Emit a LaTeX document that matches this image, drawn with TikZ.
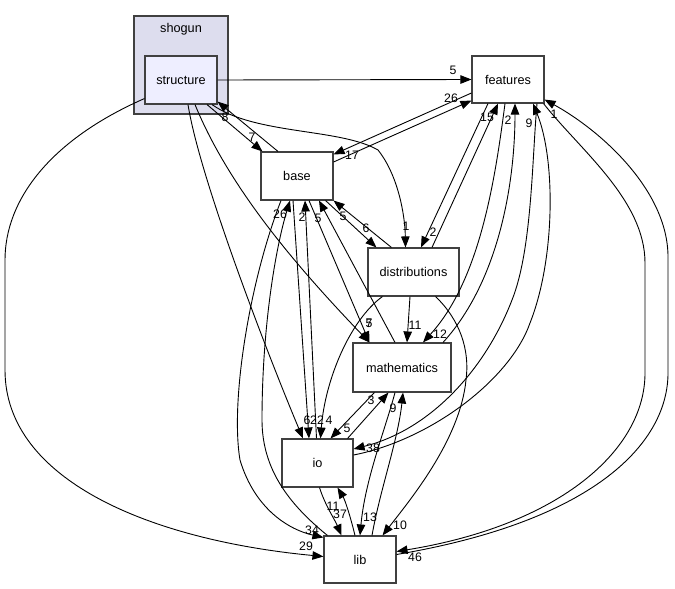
\documentclass[tikz,border=0pt]{standalone}
\usepackage{fontspec}
\setmainfont{Liberation Sans}
\usetikzlibrary{calc,arrows.meta}
\definecolor{boxline}{HTML}{404040}
\definecolor{clusterfill}{HTML}{DDDDEE}
\definecolor{structfill}{HTML}{EEEEFF}
\begin{document}
\begin{tikzpicture}[x=1pt,y=-1pt,
  box/.style={draw=boxline,line width=1.1pt,fill=white,minimum width=72pt,minimum height=48pt,inner sep=0pt,font=\fontsize{12.7}{14}\selectfont},
  dep/.style={line width=0.9pt,-{Triangle[length=11pt,width=8.5pt]}},
  cnt/.style={font=\fontsize{12.3}{14}\selectfont,inner sep=0pt}]
\useasboundingbox (0,0) rectangle (675,589);
% cluster
\node[draw=boxline,fill=clusterfill,line width=1.1pt,minimum width=94pt,minimum height=98pt,inner sep=0pt] (shogun) at (181,65) {};
\node[font=\fontsize{12.7}{14}\selectfont,inner sep=0pt] (shogunlbl) at (181,29) {shogun};
% nodes
\node[box,fill=structfill] (structure) at (181,80) {structure};
\node[box,minimum height=47pt] (features) at (508,79.5) {features};
\node[box] (base) at (297,176) {base};
\node[box,minimum width=91pt] (distributions) at (413.5,272) {distributions};
\node[box,minimum width=98pt,minimum height=49pt] (mathematics) at (402,367.5) {mathematics};
\node[box,minimum width=71pt] (io) at (317.5,463) {io};
\node[box,minimum height=47pt] (lib) at (360,559.5) {lib};
% edges
\draw[dep] (structure.east) -- (features.west);
\draw[dep] ($(structure.south)+(26,0)$) -- ($(base.north west)+(2,0)$);
\draw[dep] ($(base.north)+(-19,0)$) -- ($(structure.south east)+(0,-3)$);
\draw[dep] ($(structure.south)+(31,0)$) .. controls (255,135) and (340,128) .. (378,150) .. controls (398,175) and (405,215) .. ($(distributions.north)+(-8,0)$);
\draw[dep] ($(structure.south)+(14,0)$) .. controls (230,190) and (300,270) .. ($(mathematics.north west)+(17,0)$);
\draw[dep] ($(structure.south)+(7,0)$) .. controls (200,180) and (270,360) .. ($(io.north)+(-14.5,0)$);
\draw[dep] ($(structure.south west)+(0,-6)$) .. controls (50,140) and (5,200) .. (5,260) -- (5,370) .. controls (5,480) and (150,540) .. ($(lib.west)+(0,-3)$);
\draw[dep] ($(base.east)+(0,-14)$) -- ($(features.south west)+(0,-3)$);
\draw[dep] ($(features.west)+(0,13.5)$) -- ($(base.north east)+(0,3)$);
\draw[dep] ($(base.south east)+(-8,0)$) -- ($(distributions.north west)+(9,0)$);
\draw[dep] ($(distributions.north west)+(24,0)$) -- (base.south east);
\draw[dep] ($(distributions.north)+(18.5,0)$) -- ($(features.south)+(-10,0)$);
\draw[dep] ($(features.south)+(-20,0)$) -- ($(distributions.north)+(7.5,0)$);
\draw[dep] ($(features.south)+(-3,0)$) .. controls (495,180) and (480,280) .. ($(mathematics.north)+(21,0)$);
\draw[dep] ($(mathematics.north)+(41,0)$) .. controls (500,280) and (515,180) .. ($(features.south)+(7,0)$);
\draw[dep] ($(features.south)+(29,0)$) .. controls (532,160) and (532,250) .. (512,300) .. controls (485,370) and (430,430) .. ($(io.east)+(0,-14)$);
\draw[dep] ($(io.east)+(0,-8)$) .. controls (430,440) and (510,380) .. (530,323) .. controls (555,260) and (556,160) .. ($(features.south)+(25,0)$);
\draw[dep] ($(features.south east)+(-1,0)$) .. controls (580,150) and (645,200) .. (645,263) -- (645,373) .. controls (645,450) and (560,525) .. ($(lib.east)+(0,-8)$);
\draw[dep] ($(lib.east)+(0,-5)$) .. controls (600,520) and (668,440) .. (668,373) -- (668,257) .. controls (668,190) and (600,130) .. ($(features.south east)+(0,-4)$);
\draw[dep] ($(distributions.south)+(-3.5,0)$) -- ($(mathematics.north)+(5,0)$);
\draw[dep] ($(distributions.south west)+(15,0)$) .. controls (350,320) and (325,380) .. ($(io.north)+(3,0)$);
\draw[dep] ($(distributions.south east)+(-24,0)$) .. controls (460,320) and (470,350) .. (466,380) .. controls (460,440) and (410,500) .. ($(lib.north east)+(-14,0)$);
\draw[dep] ($(mathematics.north)+(-7,0)$) -- ($(base.south)+(22,0)$);
\draw[dep] ($(base.south)+(12,0)$) -- ($(mathematics.north west)+(17,0)$);
\draw[dep] ($(io.north)+(-1,0)$) -- ($(base.south)+(8,0)$);
\draw[dep] ($(base.south)+(-4,0)$) -- ($(io.north)+(-8.5,0)$);
\draw[dep] ($(lib.north west)+(4,0)$) .. controls (290,505) and (262,470) .. (262,420) .. controls (262,330) and (275,250) .. ($(base.south)+(-7,0)$);
\draw[dep] ($(base.south)+(-16,0)$) .. controls (250,280) and (230,400) .. (240,460) .. controls (255,510) and (290,530) .. ($(lib.north west)+(0,2)$);
\draw[dep] ($(mathematics.south west)+(22,0)$) -- ($(io.north)+(13,0)$);
\draw[dep] ($(io.north east)+(-6,0)$) -- ($(mathematics.south west)+(36,0)$);
\draw[dep] ($(mathematics.south)+(-7,0)$) .. controls (385,430) and (365,480) .. (lib.north);
\draw[dep] ($(lib.north)+(12,0)$) .. controls (380,490) and (398,440) .. ($(mathematics.south)+(1,0)$);
\draw[dep] ($(io.south)+(2,0)$) .. controls (325,505) and (335,520) .. ($(lib.north west)+(18,0)$);
\draw[dep] ($(lib.north)+(-5,0)$) .. controls (350,515) and (345,500) .. ($(io.south)+(20,0)$);
% counts
\node[cnt] (c1) at (453,70) {5};
\node[cnt] (c2) at (451,98) {26};
\node[cnt] (c3) at (352,155) {17};
\node[cnt] (c4) at (225,117) {8};
\node[cnt] (c5) at (252,137) {7};
\node[cnt] (c6) at (406,226) {1};
\node[cnt] (c7) at (433,232) {2};
\node[cnt] (c8) at (366,228) {6};
\node[cnt] (c9) at (343,216) {5};
\node[cnt] (c10) at (280,214) {26};
\node[cnt] (c11) at (302,217) {2};
\node[cnt] (c12) at (318,218) {5};
\node[cnt] (c13) at (487,117) {15};
\node[cnt] (c14) at (508,120) {2};
\node[cnt] (c15) at (529,123) {9};
\node[cnt] (c16) at (554,114) {1};
\node[cnt] (c17) at (369,323) {7};
\node[cnt] (c18) at (369,323) {5};
\node[cnt] (c19) at (415,325) {11};
\node[cnt] (c20) at (440,334) {12};
\node[cnt] (c21) at (307,420) {6};
\node[cnt] (c22) at (317,420) {22};
\node[cnt] (c23) at (329,420) {4};
\node[cnt] (c24) at (347,428) {5};
\node[cnt] (c25) at (371,400) {3};
\node[cnt] (c26) at (393,408) {9};
\node[cnt] (c27) at (373,448) {38};
\node[cnt] (c28) at (333,506) {11};
\node[cnt] (c29) at (340,514) {37};
\node[cnt] (c30) at (370,517) {13};
\node[cnt] (c31) at (400,525) {10};
\node[cnt] (c32) at (312,530) {34};
\node[cnt] (c33) at (306,546) {29};
\node[cnt] (c34) at (415,557) {46};
\end{tikzpicture}
\end{document}
